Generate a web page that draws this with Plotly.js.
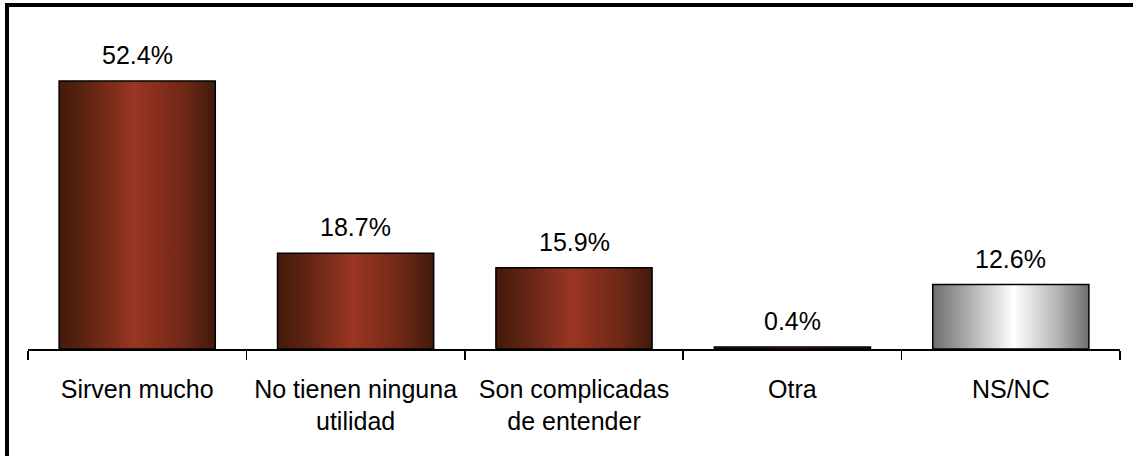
<!DOCTYPE html>
<html>
<head>
<meta charset="utf-8">
<script src="https://cdn.plot.ly/plotly-3.0.1.min.js"></script>
<style>
  html, body { margin: 0; padding: 0; background: #fff; }
  #wrap { position: relative; width: 1133px; height: 456px; overflow: hidden; }
  #chart { position: absolute; left: 0; top: 0; width: 1133px; height: 456px; }
  #frame { position: absolute; left: 5px; top: 3px; width: 1140px; height: 470px;
           border: 4px solid #000; box-sizing: border-box; pointer-events: none; }
</style>
</head>
<body>
<div id="wrap">
  <div id="chart"></div>
  <div id="frame"></div>
</div>
<script>
// ---- data ----
const categories = ["Sirven mucho", "No tienen ninguna<br>utilidad", "Son complicadas<br>de entender", "Otra", "NS/NC"];
const values = [52.4, 18.7, 15.9, 0.4, 12.6];
const valueLabels = ["52.4%", "18.7%", "15.9%", "0.4%", "12.6%"];
const barKinds = ["red", "red", "red", "red", "grey"];

const fallbackColors = barKinds.map(k => k === "grey" ? "#bdbdbd" : "#7a2a18");

const FONT = "Liberation Sans, Arial, sans-serif";

const trace = {
  type: "bar",
  x: categories,
  y: values,
  marker: { color: fallbackColors, line: { color: "#000", width: 1.5 } },
  hoverinfo: "skip"
};

const annotations = categories.map((c, i) => ({
  x: c, y: values[i], xref: "x", yref: "y",
  text: valueLabels[i], showarrow: false,
  yanchor: "bottom", yshift: 10,
  font: { family: FONT, size: 25, color: "#000" }
}));

const layout = {
  width: 1133, height: 456,
  margin: { l: 28, r: 13, t: 42, b: 107, pad: 0 },
  paper_bgcolor: "rgba(0,0,0,0)", plot_bgcolor: "rgba(0,0,0,0)",
  bargap: 0.285,
  showlegend: false,
  xaxis: {
    type: "category",
    showline: true, linecolor: "#000", linewidth: 1.5,
    ticks: "outside", tickson: "boundaries", ticklen: 9, tickwidth: 1.5, tickcolor: "#000",
    ticklabelstandoff: 17,
    showgrid: false, zeroline: false,
    tickfont: { family: FONT, size: 25, color: "#000" },
    tickangle: 0
  },
  yaxis: {
    range: [0, 60], visible: false, showgrid: false, zeroline: false, fixedrange: true
  },
  annotations: annotations
};

Plotly.newPlot("chart", [trace], layout, { staticPlot: true, displayModeBar: false }).then(gd => {
  const svg = gd.querySelector(".main-svg");
  const defs = svg.querySelector("defs");
  const NS = "http://www.w3.org/2000/svg";
  function addGrad(id, stops) {
    const g = document.createElementNS(NS, "linearGradient");
    g.setAttribute("id", id);
    g.setAttribute("x1", "0"); g.setAttribute("y1", "0");
    g.setAttribute("x2", "1"); g.setAttribute("y2", "0");
    stops.forEach(([o, c]) => {
      const s = document.createElementNS(NS, "stop");
      s.setAttribute("offset", o); s.setAttribute("stop-color", c);
      g.appendChild(s);
    });
    defs.appendChild(g);
  }
  addGrad("gradRed", [[0, "#441a0c"], [0.15, "#5a2210"], [0.48, "#9a3523"], [0.8, "#6e2815"], [1, "#421a0c"]]);
  addGrad("gradGrey", [[0, "#6e6e6e"], [0.2, "#a5a5a5"], [0.52, "#ffffff"], [0.8, "#b5b5b5"], [1, "#6e6e6e"]]);
  const paths = gd.querySelectorAll(".barlayer .point path");
  paths.forEach((p, i) => {
    p.style.fill = barKinds[i] === "grey" ? "url(#gradGrey)" : "url(#gradRed)";
  });
});
</script>
</body>
</html>
